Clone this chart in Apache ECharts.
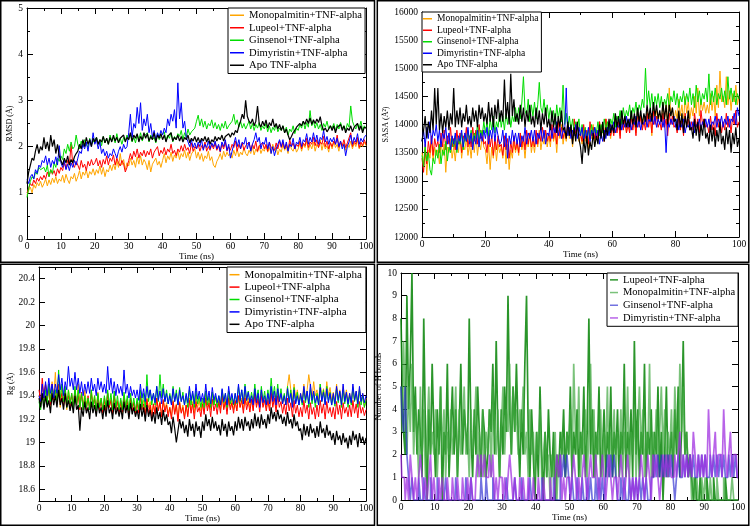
<!DOCTYPE html>
<html><head><meta charset="utf-8">
<script src="https://cdn.jsdelivr.net/npm/echarts@6/dist/echarts.min.js"></script>
<style>html,body{margin:0;padding:0;background:#fff}#c{width:750px;height:526px}</style>
</head><body><div id="c"></div>
<script>
// sampling times (ns), 0..100 every 0.5 ns
const time = [];
for (let i = 0; i <= 200; i++) time.push(i * 0.5);

const mdNames = ['Monopalmitin+TNF-alpha','Lupeol+TNF-alpha','Ginsenol+TNF-alpha','Dimyristin+TNF-alpha','Apo TNF-alpha'];
const hbNames = ['Lupeol+TNF-alpha','Monopalmitin+TNF-alpha','Ginsenol+TNF-alpha','Dimyristin+TNF-alpha'];
const rgTicks = [18.6,18.8,19,19.2,19.4,19.6,19.8,20,20.2,20.4];

// ---- RMSD (Å) ----
const rmsdMono = [0.95,1.05,1.12,1.0,1.18,1.1,1.22,1.15,1.25,1.12,
1.2,1.3,1.15,1.28,1.18,1.32,1.22,1.35,1.2,1.3,
1.25,1.38,1.22,1.4,1.28,1.2,1.35,1.3,1.42,1.25,
1.35,1.48,1.3,1.45,1.38,1.5,1.32,1.46,1.4,1.52,
1.38,1.5,1.42,1.58,1.4,1.55,1.35,1.5,1.45,1.6,
1.48,1.62,1.5,1.7,1.55,1.85,1.6,1.72,1.5,1.65,
1.58,1.75,1.6,1.7,1.55,1.78,1.62,1.8,1.6,1.72,
1.65,1.5,1.7,1.45,1.62,1.58,1.75,1.6,1.68,1.55,
1.7,1.85,1.65,1.8,1.72,1.88,1.68,1.82,1.75,1.9,
1.72,1.85,1.78,1.92,1.75,1.88,1.7,1.84,1.8,1.95,
1.75,1.88,1.72,1.85,1.68,1.8,1.74,1.9,1.7,1.78,
1.6,1.55,1.68,1.75,1.85,1.72,1.9,1.78,1.88,1.8,
1.85,1.75,1.92,1.8,1.95,1.78,1.88,1.82,1.98,1.85,
1.8,1.92,1.85,2.0,1.82,1.95,1.88,2.02,1.85,1.95,
1.9,2.02,1.88,1.98,1.85,2.05,1.92,1.98,1.82,1.95,
1.88,2.05,1.92,2.0,1.85,2.08,1.95,1.9,2.02,1.88,
1.95,2.08,1.9,2.05,1.98,2.12,1.92,2.05,1.95,2.1,
1.9,2.05,1.98,2.15,1.92,2.08,1.95,2.02,1.88,2.1,
1.95,2.1,1.98,2.05,1.9,2.12,2.0,2.08,1.92,2.05,
1.98,2.12,1.95,2.08,2.0,2.15,1.95,2.05,2.0,2.1,2.02];
const rmsdLupeol = [1.0,1.1,1.2,1.15,1.28,1.2,1.32,1.25,1.35,1.28,
1.38,1.3,1.45,1.35,1.5,1.4,1.48,1.36,1.52,1.42,
1.55,1.48,1.65,1.52,1.7,1.6,2.05,1.62,1.55,1.68,
1.6,1.5,1.7,1.55,1.62,1.48,1.68,1.58,1.72,1.6,
1.65,1.75,1.58,1.7,1.55,1.72,1.62,1.8,1.6,1.75,
1.68,1.82,1.6,1.75,1.65,1.58,1.7,1.62,1.45,1.55,
1.7,1.85,1.72,1.9,1.78,1.95,1.75,1.88,1.8,1.92,
1.78,1.9,1.82,1.95,1.75,1.88,1.85,2.0,1.8,1.92,
1.85,1.98,1.82,1.95,1.88,2.05,1.85,1.92,1.8,1.95,
1.88,2.02,1.9,2.05,1.92,1.98,1.85,2.08,1.9,2.0,
1.95,2.05,1.9,2.02,1.95,2.1,1.9,2.0,1.92,2.05,
1.95,2.08,1.92,2.02,1.88,2.05,1.95,2.1,1.9,2.0,
1.92,2.05,1.98,2.12,1.9,2.05,1.95,2.08,1.92,2.02,
1.98,2.1,1.92,2.05,1.95,2.12,1.9,2.02,1.98,2.08,
1.95,2.05,1.9,2.1,1.98,2.02,1.92,2.08,1.95,2.12,
1.98,2.1,1.95,2.05,1.92,2.15,2.0,2.08,1.95,2.05,
2.0,2.12,1.95,2.08,2.02,2.18,1.98,2.1,2.05,2.2,
2.02,2.15,1.98,2.1,2.05,2.22,2.0,2.12,1.95,2.08,
2.0,2.12,2.05,2.25,1.98,2.1,2.02,2.15,1.98,2.08,
2.05,2.3,2.0,2.12,2.05,2.2,1.98,2.1,2.02,2.15,2.05];
const rmsdGinsenol = [0.9,1.1,1.25,1.35,1.3,1.45,1.4,1.55,1.5,1.48,
1.55,1.45,1.6,1.35,1.5,1.42,1.65,1.55,1.75,1.68,
1.8,1.72,1.95,1.85,2.05,1.9,2.1,1.95,2.0,2.25,
2.05,1.95,2.12,2.0,2.15,2.05,1.98,2.18,2.05,2.1,
2.1,2.2,2.05,2.15,2.02,2.22,2.08,2.18,2.05,2.25,
2.12,2.2,2.08,2.28,2.1,2.18,2.05,2.2,2.12,2.25,
2.15,2.28,2.1,2.2,2.08,2.25,2.15,2.3,2.12,2.22,
2.18,2.3,2.1,2.25,2.15,2.2,2.08,2.28,2.15,2.22,
2.2,2.32,2.12,2.25,2.18,2.3,2.1,2.22,2.15,2.28,
2.22,2.35,2.15,2.3,2.2,2.38,2.25,2.32,2.28,2.4,
2.55,2.68,2.45,2.6,2.42,2.55,2.38,2.5,2.45,2.58,
2.4,2.52,2.38,2.48,2.35,2.5,2.4,2.55,2.38,2.45,
2.45,2.55,2.7,2.48,2.58,2.42,2.55,2.4,2.5,2.38,
2.42,2.55,2.38,2.5,2.35,2.48,2.4,2.52,2.35,2.45,
2.38,2.5,2.32,2.45,2.3,2.42,2.35,2.48,2.32,2.4,
2.35,2.45,2.3,2.42,2.25,2.38,2.32,2.45,2.28,2.4,
2.35,2.48,2.4,2.55,2.38,2.52,2.42,2.78,2.45,2.55,
2.4,2.52,2.38,2.48,2.35,2.5,2.42,2.55,2.38,2.45,
2.4,2.5,2.35,2.48,2.38,2.52,2.4,2.45,2.35,2.5,
2.42,2.88,2.55,2.45,2.38,2.5,2.4,2.55,2.35,2.45,2.4];
const rmsdDimyristin = [1.3,1.2,1.35,1.4,1.3,1.5,1.42,1.6,1.55,1.7,
1.65,1.8,1.6,1.75,1.55,1.7,1.62,1.78,1.6,2.02,
1.65,1.55,1.7,1.5,1.62,1.48,1.65,1.55,1.7,1.6,
1.75,1.9,1.85,2.05,1.95,2.1,1.9,2.15,2.0,2.3,
2.05,2.15,1.95,2.1,1.85,1.95,1.8,1.9,1.75,1.85,
1.8,1.95,1.85,1.75,1.9,2.0,1.88,2.05,1.95,2.0,
2.3,2.7,2.2,2.5,2.4,2.85,2.5,2.95,2.35,2.6,
2.45,2.7,2.3,2.5,2.2,2.35,2.15,2.3,2.2,2.35,
2.25,2.4,2.3,2.6,2.45,2.7,2.55,2.8,2.4,3.38,
2.6,2.95,2.4,2.55,2.2,2.1,2.0,2.15,1.98,2.08,
1.95,2.1,2.0,2.15,1.92,2.05,1.98,2.12,1.95,2.08,
2.0,2.12,1.95,2.05,1.9,2.1,2.0,2.15,1.92,2.05,
1.75,1.9,2.05,2.2,2.0,2.15,1.95,2.1,2.05,2.2,
1.95,2.1,1.9,2.05,2.15,2.3,2.1,2.2,1.95,2.1,
2.05,2.2,1.95,2.1,1.85,2.0,1.8,1.95,2.05,2.15,
2.0,2.15,1.95,2.1,1.9,2.05,2.0,2.18,1.95,2.1,
2.05,2.2,2.0,2.15,2.1,2.28,2.05,2.2,2.1,2.3,
2.1,2.25,2.05,2.2,2.15,2.35,2.1,2.22,2.05,2.18,
2.1,2.2,2.05,2.18,2.0,2.12,1.95,2.05,1.8,2.0,
2.1,2.25,2.05,2.2,2.1,2.28,2.05,2.18,2.1,2.2,2.25];
const rmsdApo = [1.2,1.45,1.6,1.75,1.7,1.9,2.05,1.85,2.0,1.92,
2.2,1.95,2.1,1.9,2.25,2.0,2.15,1.85,2.05,1.8,
1.7,1.6,1.75,1.65,1.8,1.6,1.72,1.65,1.78,1.85,
1.9,2.05,1.95,2.15,2.0,2.2,2.05,2.15,2.0,2.18,
2.1,2.2,2.05,2.15,2.1,2.22,2.08,2.18,2.05,2.2,
2.1,2.25,2.12,2.2,2.08,2.18,2.15,2.25,2.1,2.2,
2.15,2.3,2.12,2.25,2.18,2.28,2.1,2.22,2.15,2.3,
2.18,2.28,2.12,2.22,2.15,2.3,2.1,2.25,2.18,2.28,
2.15,2.25,2.1,2.22,2.18,2.3,2.12,2.2,2.15,2.25,
2.12,2.22,2.1,2.2,2.15,2.25,2.08,2.18,2.12,2.22,
2.1,2.2,2.08,2.18,2.12,2.22,2.1,2.2,2.05,2.15,
2.1,2.22,2.12,2.2,2.15,2.25,2.12,2.22,2.18,2.28,
2.2,2.3,2.25,2.35,2.3,2.45,2.55,2.7,2.6,3.0,
2.65,2.55,2.5,2.6,2.45,2.55,2.88,2.5,2.42,2.55,
2.45,2.58,2.4,2.52,2.45,2.6,2.42,2.5,2.38,2.48,
2.35,2.45,2.3,2.38,2.25,2.15,2.22,2.3,2.35,2.42,
2.4,2.5,2.45,2.55,2.48,2.6,2.5,2.62,2.48,2.58,
2.5,2.6,2.52,2.65,2.45,2.35,2.4,2.32,2.38,2.45,
2.35,2.45,2.3,2.42,2.38,2.48,2.35,2.45,2.3,2.4,
2.35,2.45,2.32,2.42,2.38,2.5,2.35,2.45,2.3,2.42,2.4];

// ---- SASA (Å²) ----
const sasaMono = [13500,13300,13650,13100,13550,13400,13700,13350,13600,13450,
13550,13300,13700,13450,13650,13150,13600,13500,13750,13400,
13600,13350,13700,13500,13800,13400,13650,13550,13750,13450,
13650,13400,13750,13500,13850,13450,13700,13550,13800,13600,
13550,13300,13650,13200,13600,13400,13700,13350,13650,13500,
13600,13400,13750,13300,13650,13200,13550,13400,13700,13500,
13650,13450,13800,13550,13700,13400,13750,13600,13850,13500,
13700,13500,13800,13600,13900,13550,13750,13650,13850,13600,
13800,13600,13950,13700,13850,13500,13900,13750,14000,13650,
13850,13700,14000,13750,13900,13600,13950,13800,14050,13700,
13800,13650,13950,13700,13850,13550,13900,13750,14000,13650,
13900,13750,14050,13800,13950,13700,14100,13850,13950,13750,
14000,13850,14150,13900,14050,13800,14200,13950,14100,13850,
14050,13900,14200,13950,14150,13850,14250,14000,14150,13950,
14150,14000,14300,14050,14250,13800,14350,14100,14250,14050,
14200,14050,14400,14100,14350,14000,14650,14150,14300,14050,
14250,14100,14450,14150,14350,14050,14500,14200,14400,14100,
14300,14150,14500,14200,14650,14150,14450,14250,14400,14200,
14350,14200,14550,14250,14500,14150,14700,14300,14950,14400,
14500,14300,14850,14350,14600,14250,14550,14400,14700,14350,14500];
const sasaLupeol = [13400,13150,13550,13300,13700,13500,13800,13450,13750,13600,
13700,13500,13850,13600,13900,13550,13800,13650,13950,13600,
13750,13550,13900,13650,13850,13500,13800,13700,13950,13600,
13800,13600,13950,13700,13900,13650,14000,13750,13900,13650,
13700,13500,13850,13600,13800,13450,13750,13550,13800,13600,
13650,13450,13800,13550,13750,13400,13700,13500,13800,13550,
13700,13500,13850,13600,13800,13550,13900,13650,13850,13600,
13750,13600,13900,13650,13850,13700,13950,13750,13900,13700,
13850,13700,14000,13750,13950,13650,14050,13800,13950,13750,
13900,13750,14050,13800,13950,13700,14100,13850,14000,13800,
13850,13700,14000,13750,13900,13650,14050,13800,13950,13750,
13900,13750,14050,13800,14000,13700,14100,13850,14000,13800,
13950,13800,14100,13850,14050,13750,14200,13900,14100,13850,
14000,13850,14150,13900,14100,13800,14250,13950,14150,13900,
14050,13900,14200,13950,14150,13850,14250,14000,14150,13950,
14050,13900,14200,13950,14100,13800,14200,14000,14150,13950,
14000,13850,14150,13900,14100,13800,14200,13950,14100,13900,
14050,13900,14200,13950,14100,13850,14250,14000,14100,13950,
14000,13850,14150,13900,14050,13800,14200,13950,14100,13850,
14050,13900,14200,13950,14100,13850,14150,14000,14250,13950,14050];
const sasaGinsenol = [13450,13250,13600,13350,13500,13200,13100,13400,13300,13550,
13400,13650,13300,13550,13450,13700,13350,13600,13500,13750,
13600,13800,13500,13750,13650,13850,13550,13800,13700,13900,
13700,13900,13650,13850,13750,14000,13700,13900,13800,14050,
13850,14050,13800,14100,13900,14150,13850,14050,13950,14200,
13950,14150,13900,14200,14000,14250,13950,14150,14050,14300,
14050,14300,14100,14400,14850,14250,14150,14450,14050,14350,
14150,14400,14100,14350,14750,14300,14200,14450,14150,14350,
14100,14300,14050,14250,14000,14350,14100,14300,14050,14700,
14000,14200,13950,14150,13900,14100,13850,14050,13950,14100,
13800,14000,13750,13950,13700,13900,13750,14000,13800,13950,
13850,14050,13800,14000,13850,14100,13900,14050,13850,14100,
14000,14200,13950,14150,14050,14250,14000,14300,14100,14250,
14150,14350,14100,14300,14200,14400,14150,14350,14250,14450,
14300,15000,14350,14600,14300,14550,14250,14500,14350,14550,
14300,14500,14250,14450,14350,14550,14300,14500,14400,14600,
14350,14550,14300,14500,14400,14600,14350,14550,14400,14650,
14350,14550,14300,14700,14400,14600,14350,14550,14450,14650,
14400,14900,14350,14600,14400,14650,14350,14550,14450,14650,
14400,14600,14350,14850,14450,14650,14400,14600,14350,14550,14450];
const sasaDimyristin = [13700,13900,13600,13950,13750,14050,13650,13900,13800,14000,
13700,13900,13600,13850,13750,13950,13650,13850,13550,13800,
13650,13850,13550,13800,13700,13900,13600,13850,13700,13950,
13650,13850,13550,13800,13650,13900,13600,13850,13700,13900,
13750,13950,13650,13900,13750,14000,13700,13950,13800,13650,
13700,13900,13600,13850,13400,13800,13650,13900,13700,13850,
13650,13850,13600,13800,13700,13950,13650,13850,13750,13900,
13700,13900,13650,13850,13750,13950,13700,13900,13650,13850,
13800,14000,13750,13950,13850,14050,13800,13950,13750,13900,
13850,14650,13800,13950,13750,13900,13800,14000,13750,13950,
13800,13950,13700,13900,13750,13950,13700,13900,13800,13950,
13750,13900,13650,13850,13700,13900,13750,13950,13800,14000,
13900,14050,13850,14000,13950,14100,13900,14050,13950,14150,
13950,14100,13900,14050,14000,14150,13950,14100,13900,14050,
14000,14150,13950,14100,14050,14200,14000,14150,13950,14100,
14000,14150,13950,14100,13500,14050,13950,14100,14000,14150,
13950,14100,13900,14050,13950,14100,13850,14000,13950,14050,
13900,14050,13850,14000,13950,14100,13900,14050,13950,14100,
13950,14100,13900,14050,14000,14150,13950,14100,14000,14150,
13950,14100,14000,14150,13950,14100,14050,14200,14000,14300,14150];
const sasaApo = [13700,13900,14150,13750,14050,13850,14250,13900,14650,14000,
14650,13900,14200,13850,14150,13950,14250,13900,14200,14000,
14650,13950,14250,14000,14300,13950,14200,14050,14350,14000,
14150,13950,14300,14050,14250,13950,14350,14100,14300,14050,
14200,14000,14400,14050,14300,13950,14350,14100,14450,14050,
14250,14050,14800,14100,14400,14000,14900,14150,14450,14050,
14200,14000,14350,14050,14300,13950,14250,14050,14350,14000,
14150,13950,14300,14000,14250,13900,14200,14000,14300,13950,
14100,13900,14250,13950,14200,13850,14150,13950,14250,13900,
13950,13750,14050,13800,14000,13650,13950,13700,14050,13750,
13600,13300,13750,13500,13800,13450,13700,13550,13850,13600,
13800,13650,14000,13750,14050,13700,13950,13800,14100,13850,
14000,13850,14200,13950,14150,13900,14250,14000,14150,13950,
14100,13950,14250,14000,14200,13950,14300,14050,14250,14000,
14200,14050,14350,14100,14300,14050,14400,14150,14350,14100,
14250,14050,14400,14100,14350,14000,14350,14150,14300,14050,
14100,13900,14250,13950,14200,13850,14150,13950,14250,13900,
13950,13750,14100,13800,14050,13700,14000,13800,14100,13750,
13850,13650,14000,13700,13950,13600,13900,13700,14050,13650,
13800,13550,13950,13650,13900,13500,13850,13650,13950,13600,13750];

// ---- Rg (Å) ----
const rgMono = [19.4,19.32,19.48,19.35,19.5,19.38,19.45,19.3,19.52,19.38,
19.6,19.35,19.45,19.3,19.48,19.35,19.42,19.28,19.45,19.35,
19.4,19.3,19.45,19.32,19.5,19.35,19.42,19.28,19.45,19.33,
19.38,19.28,19.45,19.32,19.4,19.27,19.43,19.3,19.38,19.25,
19.35,19.28,19.42,19.3,19.38,19.25,19.4,19.3,19.36,19.27,
19.33,19.25,19.4,19.3,19.37,19.24,19.38,19.3,19.35,19.26,
19.34,19.26,19.4,19.3,19.36,19.25,19.38,19.3,19.35,19.25,
19.33,19.25,19.38,19.28,19.35,19.22,19.37,19.28,19.34,19.25,
19.3,19.22,19.36,19.26,19.33,19.2,19.35,19.26,19.32,19.22,
19.32,19.24,19.38,19.28,19.35,19.25,19.4,19.3,19.36,19.27,
19.35,19.27,19.42,19.3,19.38,19.28,19.43,19.32,19.38,19.3,
19.36,19.28,19.42,19.3,19.38,19.27,19.4,19.3,19.37,19.28,
19.35,19.27,19.4,19.3,19.38,19.28,19.42,19.32,19.38,19.3,
19.37,19.28,19.42,19.32,19.4,19.3,19.43,19.32,19.38,19.3,
19.38,19.3,19.45,19.33,19.4,19.3,19.45,19.35,19.42,19.33,
19.4,19.32,19.48,19.58,19.45,19.35,19.5,19.38,19.45,19.35,
19.42,19.35,19.5,19.38,19.45,19.58,19.48,19.38,19.52,19.4,
19.45,19.36,19.5,19.38,19.46,19.35,19.52,19.4,19.47,19.36,
19.43,19.35,19.5,19.38,19.45,19.34,19.48,19.37,19.45,19.35,
19.42,19.33,19.48,19.36,19.44,19.32,19.46,19.35,19.42,19.3,19.38];
const rgLupeol = [19.45,19.35,19.55,19.38,19.5,19.35,19.48,19.32,19.5,19.36,
19.45,19.33,19.5,19.35,19.42,19.3,19.46,19.33,19.4,19.3,
19.42,19.3,19.45,19.32,19.4,19.28,19.43,19.3,19.38,19.27,
19.4,19.28,19.42,19.3,19.37,19.25,19.4,19.28,19.36,19.25,
19.38,19.27,19.42,19.3,19.36,19.24,19.4,19.28,19.35,19.25,
19.36,19.26,19.4,19.28,19.35,19.22,19.38,19.27,19.34,19.24,
19.35,19.25,19.4,19.28,19.33,19.22,19.37,19.25,19.32,19.2,
19.33,19.24,19.38,19.27,19.34,19.22,19.36,19.26,19.32,19.22,
19.3,19.2,19.35,19.24,19.32,19.18,19.34,19.25,19.3,19.2,
19.32,19.22,19.36,19.25,19.33,19.2,19.35,19.26,19.3,19.22,
19.33,19.24,19.38,19.27,19.34,19.22,19.37,19.27,19.33,19.24,
19.35,19.25,19.4,19.28,19.35,19.24,19.38,19.28,19.34,19.25,
19.36,19.27,19.4,19.3,19.36,19.25,19.38,19.28,19.35,19.26,
19.37,19.27,19.42,19.3,19.37,19.26,19.4,19.3,19.36,19.27,
19.36,19.27,19.42,19.3,19.38,19.26,19.4,19.3,19.35,19.25,
19.33,19.24,19.38,19.27,19.34,19.22,19.36,19.25,19.32,19.22,
19.3,19.22,19.36,19.25,19.32,19.2,19.34,19.24,19.3,19.2,
19.32,19.22,19.36,19.25,19.33,19.2,19.35,19.25,19.3,19.22,
19.3,19.2,19.35,19.24,19.32,19.2,19.34,19.25,19.3,19.22,
19.32,19.22,19.36,19.25,19.33,19.21,19.35,19.25,19.3,19.23,19.28];
const rgGinsenol = [19.35,19.28,19.42,19.3,19.45,19.32,19.5,19.35,19.48,19.38,
19.45,19.35,19.62,19.38,19.5,19.35,19.48,19.3,19.45,19.33,
19.42,19.3,19.48,19.32,19.45,19.3,19.42,19.28,19.4,19.3,
19.38,19.28,19.45,19.3,19.4,19.27,19.42,19.3,19.38,19.28,
19.4,19.3,19.45,19.32,19.42,19.28,19.44,19.3,19.4,19.28,
19.38,19.28,19.43,19.3,19.4,19.27,19.42,19.3,19.38,19.27,
19.38,19.28,19.45,19.3,19.42,19.3,19.58,19.35,19.45,19.32,
19.42,19.32,19.48,19.35,19.58,19.38,19.5,19.35,19.45,19.33,
19.42,19.33,19.48,19.35,19.45,19.32,19.47,19.35,19.43,19.32,
19.4,19.3,19.45,19.32,19.42,19.3,19.44,19.33,19.4,19.3,
19.38,19.3,19.44,19.32,19.4,19.3,19.43,19.32,19.4,19.3,
19.4,19.32,19.45,19.34,19.42,19.3,19.44,19.33,19.4,19.32,
19.42,19.33,19.48,19.35,19.45,19.33,19.5,19.36,19.44,19.34,
19.43,19.34,19.5,19.36,19.45,19.33,19.48,19.35,19.44,19.33,
19.45,19.35,19.55,19.38,19.48,19.35,19.5,19.36,19.46,19.34,
19.42,19.33,19.48,19.35,19.45,19.32,19.47,19.34,19.43,19.32,
19.4,19.32,19.46,19.34,19.44,19.3,19.45,19.33,19.42,19.3,
19.42,19.32,19.5,19.35,19.45,19.33,19.48,19.35,19.43,19.32,
19.4,19.31,19.46,19.34,19.43,19.3,19.45,19.33,19.42,19.3,
19.4,19.32,19.47,19.35,19.43,19.3,19.45,19.32,19.4,19.3,19.36];
const rgDimyristin = [19.4,19.35,19.5,19.38,19.52,19.4,19.55,19.42,19.5,19.38,
19.5,19.42,19.58,19.45,19.55,19.4,19.52,19.45,19.65,19.48,
19.55,19.45,19.6,19.45,19.55,19.42,19.52,19.4,19.5,19.42,
19.52,19.42,19.55,19.44,19.5,19.4,19.55,19.45,19.52,19.43,
19.5,19.42,19.65,19.45,19.55,19.42,19.52,19.4,19.5,19.42,
19.48,19.4,19.62,19.42,19.5,19.38,19.48,19.4,19.45,19.38,
19.45,19.36,19.5,19.38,19.46,19.35,19.48,19.38,19.45,19.36,
19.42,19.34,19.48,19.36,19.44,19.33,19.46,19.35,19.42,19.33,
19.4,19.32,19.46,19.35,19.42,19.32,19.45,19.35,19.4,19.32,
19.42,19.34,19.48,19.36,19.44,19.33,19.5,19.37,19.44,19.35,
19.42,19.34,19.5,19.36,19.44,19.33,19.47,19.36,19.42,19.34,
19.4,19.32,19.46,19.35,19.42,19.32,19.48,19.36,19.42,19.33,
19.42,19.34,19.5,19.36,19.45,19.33,19.48,19.36,19.43,19.34,
19.4,19.32,19.46,19.34,19.42,19.3,19.45,19.34,19.4,19.32,
19.42,19.33,19.48,19.35,19.44,19.32,19.46,19.35,19.42,19.33,
19.4,19.32,19.46,19.34,19.42,19.3,19.45,19.33,19.4,19.32,
19.42,19.34,19.48,19.36,19.44,19.33,19.5,19.36,19.44,19.34,
19.4,19.32,19.47,19.35,19.43,19.32,19.46,19.34,19.42,19.32,
19.42,19.33,19.48,19.36,19.44,19.32,19.5,19.35,19.43,19.33,
19.42,19.34,19.5,19.36,19.44,19.33,19.48,19.35,19.42,19.34,19.4];
const rgApo = [19.38,19.3,19.42,19.28,19.4,19.3,19.36,19.25,19.42,19.32,
19.4,19.3,19.45,19.32,19.38,19.28,19.42,19.3,19.36,19.27,
19.35,19.25,19.4,19.28,19.32,19.1,19.3,19.22,19.35,19.25,
19.3,19.2,19.35,19.25,19.32,19.22,19.34,19.25,19.3,19.2,
19.32,19.22,19.36,19.25,19.3,19.2,19.34,19.24,19.3,19.22,
19.3,19.2,19.35,19.25,19.32,19.2,19.34,19.24,19.3,19.22,
19.28,19.2,19.33,19.22,19.3,19.18,19.32,19.22,19.28,19.18,
19.26,19.16,19.3,19.2,19.26,19.15,19.28,19.18,19.24,19.15,
19.18,19.08,19.22,19.12,19.0,19.1,19.2,19.12,19.18,19.08,
19.15,19.05,19.2,19.1,19.16,19.05,19.18,19.1,19.14,19.04,
19.18,19.1,19.24,19.14,19.2,19.1,19.22,19.12,19.18,19.1,
19.15,19.06,19.2,19.1,19.16,19.05,19.18,19.1,19.14,19.06,
19.18,19.1,19.22,19.12,19.2,19.1,19.22,19.14,19.18,19.1,
19.2,19.12,19.25,19.14,19.22,19.12,19.24,19.15,19.2,19.12,
19.24,19.16,19.3,19.2,19.26,19.18,19.28,19.2,19.24,19.16,
19.22,19.14,19.26,19.16,19.2,19.12,19.24,19.14,19.18,19.1,
19.12,19.02,19.16,19.06,19.14,19.05,19.16,19.08,19.12,19.04,
19.14,19.05,19.18,19.08,19.12,19.04,19.15,19.06,19.1,19.02,
19.08,18.98,19.1,19.02,19.06,18.98,19.08,19.0,19.04,18.95,
19.06,18.98,19.1,19.02,19.07,18.96,19.08,19.0,19.05,18.98,19.04];

// ---- Number of H bonds ----
const hbLupeol = [8,6,3,2,9,4,6,10,3,5, 2,4,3,1,8,3,0,4,2,6, 3,1,4,2,5,0,3,2,6,1, 3,5,2,4,1,3,6,2,4,3,
2,8,3,1,4,2,5,3,1,4, 3,1,2,4,3,6,2,7,3,1, 4,2,5,3,9,4,2,5,3,6, 3,1,4,2,6,9,3,1,4,2,
0,3,1,5,2,0,3,1,4,2, 1,3,0,2,1,3,2,4,1,3, 2,5,1,3,2,4,1,3,2,5, 1,3,8,2,4,1,3,2,5,1,
2,4,1,3,2,5,1,3,2,4, 1,3,2,6,1,3,2,4,1,7, 2,4,1,3,2,6,1,3,2,4, 1,3,2,5,1,3,0,2,5,1,
2,3,1,4,2,5,1,3,7,2, 3,1,2,1,0,1,0,0,1,0, 0,0,1,0,0,0,1,0,0,0, 0,0,0,1,0,0,0,0,0,0, 0];
const hbMono = [5,3,7,4,2,5,3,6,2,4, 3,1,5,2,4,1,3,5,2,3, 2,4,1,3,5,2,4,1,3,2, 4,2,3,5,1,4,2,3,5,2,
3,1,4,2,3,5,1,3,2,4, 1,3,2,4,1,5,3,2,4,1, 3,5,2,4,3,6,2,5,3,4, 2,4,3,5,2,3,1,4,2,3,
1,3,2,4,1,2,3,1,2,0, 2,1,3,0,2,1,3,2,1,3, 2,4,1,6,3,2,5,1,3,2, 4,1,3,6,2,4,1,3,2,4,
1,3,2,5,1,3,2,4,1,3, 2,4,1,3,2,5,1,3,2,4, 1,3,5,2,4,1,3,2,6,1, 3,2,4,1,3,5,2,4,1,3,
2,4,1,5,3,2,6,3,5,2, 3,1,2,0,1,0,1,0,0,1, 0,1,0,0,1,0,0,0,1,0, 0,0,1,0,0,0,0,1,0,0, 0];
const hbGinsenol = [5,4,3,5,2,1,0,1,0,0, 0,1,0,0,1,0,0,0,1,0, 0,0,1,0,0,0,0,1,0,0, 0,0,0,1,0,0,0,0,0,1,
0,0,1,0,0,0,0,0,1,0, 0,1,0,0,0,1,0,0,0,0, 0,0,0,1,0,0,0,0,1,0, 0,0,1,0,0,0,0,1,0,0,
0,0,0,0,1,0,0,0,0,0, 0,1,0,0,0,2,1,2,1,2, 1,0,1,0,0,1,0,0,1,0, 0,1,0,1,0,0,1,0,1,0,
1,0,1,2,1,2,1,2,1,0, 0,1,0,1,0,0,1,0,1,0, 1,0,1,0,1,0,1,0,0,1, 1,2,1,2,1,2,1,2,1,2,
1,2,1,0,1,2,1,1,2,1, 2,1,2,1,2,1,1,2,1,2, 1,2,1,1,2,1,2,1,2,1, 2,1,2,1,1,2,1,2,1,2, 1];
const hbDimyristin = [2,1,1,0,1,0,2,1,0,1, 0,1,2,1,0,1,0,1,2,0, 1,0,0,1,0,1,0,0,1,0, 0,1,0,0,1,0,0,1,0,0,
1,0,1,0,0,1,2,1,2,1, 2,1,1,2,1,2,0,1,0,1, 1,0,1,0,1,2,1,0,1,0, 0,1,0,1,0,0,1,0,0,1,
0,0,1,0,0,1,0,0,0,1, 0,0,1,2,1,2,0,1,0,1, 1,0,1,2,1,0,1,0,1,2, 1,0,1,2,1,1,2,1,0,1,
2,1,0,1,2,1,0,1,1,0, 1,2,1,0,1,2,1,0,1,0, 1,0,1,2,1,0,1,2,1,0, 2,1,2,1,0,1,2,1,2,1,
2,1,1,2,1,2,3,1,2,1, 2,1,2,1,3,2,1,2,1,2, 1,2,1,4,2,1,2,3,1,2, 2,1,4,2,1,2,3,1,2,2, 1];

const mdColors = ['#ffa500','#ff0000','#00dd00','#0000ff','#000000'];
const hbColors = ['#138a13','#42a842','#2626d0','#a030e0'];
const hbOpacity = [0.9,0.7,0.65,0.75];

const FONT = "'Liberation Serif', 'Times New Roman', serif";
const axisLineStyle = {show:true, onZero:false, lineStyle:{color:'#000', width:1}};
const tickStyle = {show:true, inside:true, length:6, lineStyle:{color:'#000', width:1}};
const plain = v => String(v);

function makeX(gi, interval, nameGap) {
  const base = {type:'value', gridIndex:gi, min:0, max:100, interval:interval,
    axisLine:axisLineStyle, axisTick:tickStyle,
    minorTick:{show:true, splitNumber:2, length:3, lineStyle:{color:'#000'}},
    splitLine:{show:false}};
  return [
    Object.assign({}, base, {position:'bottom', name:'Time (ns)', nameLocation:'middle', nameGap:nameGap,
      nameTextStyle:{fontFamily:FONT, fontSize:9, color:'#000'},
      axisLabel:{fontFamily:FONT, fontSize:9.5, color:'#000', margin:2, formatter:plain}}),
    Object.assign({}, base, {position:'top', axisLabel:{show:false}})
  ];
}
function makeY(gi, o) {
  const base = {type:'value', gridIndex:gi, min:o.min, max:o.max,
    axisLine:axisLineStyle, splitLine:{show:false}};
  if (o.interval) base.interval = o.interval;
  const tick = Object.assign({}, tickStyle);
  if (o.custom) tick.customValues = o.custom;
  base.axisTick = tick;
  base.minorTick = o.minor ? {show:true, splitNumber:2, length:3, lineStyle:{color:'#000'}} : {show:false};
  const label = {fontFamily:FONT, fontSize:9.5, color:'#000', margin:4, formatter:plain};
  if (o.custom) label.customValues = o.custom;
  return [
    Object.assign({}, base, {position:'left', name:o.name, nameLocation:'middle', nameGap:o.nameGap,
      nameTextStyle:{fontFamily:FONT, fontSize:o.nfs, color:'#000'},
      axisLabel:label}),
    Object.assign({}, base, {position:'right', axisLabel:{show:false}})
  ];
}
function line(id, name, values, gi, color, width, opacity) {
  return {type:'line', name:name + '@' + id, xAxisIndex:gi*2, yAxisIndex:gi*2,
    data: values.map((v, i) => [time[i], v]),
    showSymbol:false, symbol:'none', silent:true, animation:false,
    step: id === 'hb' ? 'middle' : false,
    lineStyle:{color:color, width:width, opacity:opacity},
    itemStyle:{color:color, opacity:opacity}};
}
function legend(id, names, o) {
  return {orient:'vertical', left:o.left, top:o.top, data:names.map(n => n + '@' + id),
    formatter: n => n.split('@')[0], icon:'rect', itemWidth:o.iw, itemHeight:1.5, itemGap:0,
    backgroundColor:'#fff', borderColor:'#000', borderWidth:1, borderRadius:0, padding:o.pad,
    selectedMode:false,
    textStyle:{fontFamily:FONT, fontSize:o.fs, color:'#000', lineHeight:o.lh}};
}

const rmsdSets = [rmsdMono, rmsdLupeol, rmsdGinsenol, rmsdDimyristin, rmsdApo];
const sasaSets = [sasaMono, sasaLupeol, sasaGinsenol, sasaDimyristin, sasaApo];
const rgSets = [rgMono, rgLupeol, rgGinsenol, rgDimyristin, rgApo];
const hbSets = [hbLupeol, hbMono, hbGinsenol, hbDimyristin];

const series = [];
mdNames.forEach((n, k) => series.push(line('rmsd', n, rmsdSets[k], 0, mdColors[k], k === 4 ? 1.2 : 1, 1)));
mdNames.forEach((n, k) => series.push(line('sasa', n, sasaSets[k], 1, mdColors[k], k === 4 ? 1.2 : 1, 1)));
mdNames.forEach((n, k) => series.push(line('rg', n, rgSets[k], 2, mdColors[k], k === 4 ? 1.2 : 1, 1)));
hbNames.forEach((n, k) => series.push(line('hb', n, hbSets[k], 3, hbColors[k], 1.7, hbOpacity[k])));

const border = {fill:'none', stroke:'#000', lineWidth:1.5};
const option = {
  backgroundColor:'#fff',
  animation:false,
  textStyle:{fontFamily:FONT},
  grid:[
    {left:27, top:8, width:339, height:231},
    {left:422, top:12, width:317, height:225},
    {left:39, top:267, width:327, height:234},
    {left:401, top:273, width:337, height:227}
  ],
  xAxis:[].concat(makeX(0, 10, 8), makeX(1, 20, 7), makeX(2, 10, 11), makeX(3, 10, 9.5)),
  yAxis:[].concat(
    makeY(0, {min:0, max:5, interval:1, minor:true, name:'RMSD (Å)', nameGap:7, nfs:8}),
    makeY(1, {min:12000, max:16000, interval:500, minor:true, name:'SASA (Å²)', nameGap:21, nfs:8}),
    makeY(2, {min:18.5, max:20.5, custom:rgTicks, minor:false, name:'Rg (Å)', nameGap:22, nfs:8}),
    makeY(3, {min:0, max:10, interval:1, minor:false, name:'Number of H bonds', nameGap:11, nfs:8.5})
  ),
  legend:[
    legend('rmsd', mdNames, {left:228, top:8, iw:14, pad:[1,3,2,2], fs:10.6, lh:12.5}),
    legend('sasa', mdNames, {left:422, top:12, iw:9, pad:[1,3,1.5,1], fs:9.5, lh:11.5}),
    legend('rg', mdNames, {left:227, top:267, iw:10, pad:[1.5,4,2,2.5], fs:11, lh:12.4}),
    legend('hb', hbNames, {left:607, top:273, iw:8, pad:[0.5,3,2,3], fs:10.5, lh:12.7})
  ],
  series:series,
  graphic:[
    {type:'rect', silent:true, z:100, shape:{x:0.75, y:0.75, width:373.75, height:261.45}, style:border},
    {type:'rect', silent:true, z:100, shape:{x:377.3, y:0.75, width:371.5, height:261.45}, style:border},
    {type:'rect', silent:true, z:100, shape:{x:0.75, y:264.2, width:373.75, height:261}, style:border},
    {type:'rect', silent:true, z:100, shape:{x:377.3, y:264.2, width:371.5, height:261}, style:border}
  ]
};
echarts.init(document.getElementById('c'), null, {renderer:'canvas'}).setOption(option);
</script>
</body></html>
